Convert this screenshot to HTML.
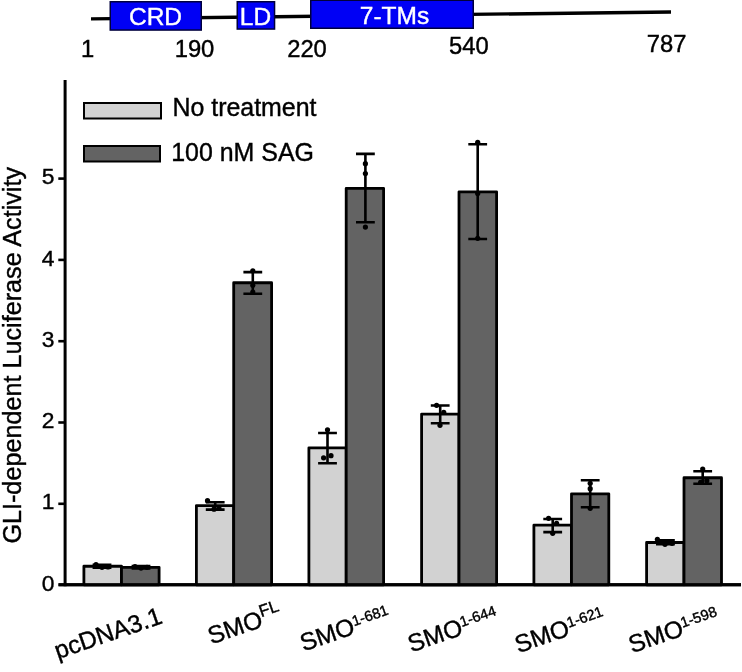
<!DOCTYPE html>
<html><head><meta charset="utf-8"><title>Figure</title>
<style>
html,body{margin:0;padding:0;background:#fff;}
body{width:742px;height:672px;overflow:hidden;position:relative;}
svg{position:absolute;left:0;top:0;display:block;}
text{font-family:"Liberation Sans",Arial,Helvetica,sans-serif;fill:#000;}
text.k{stroke:#000;stroke-width:0.4px;}
text.w{stroke:#fff;stroke-width:0.4px;}
</style></head><body>
<svg width="742" height="672" viewBox="0 0 742 672">
<rect width="742" height="672" fill="#fff"/>

<line x1="91" y1="18.9" x2="671" y2="12" stroke="#000" stroke-width="3.4"/>
<rect x="110.25" y="1.75" width="91.0" height="28.3" fill="#0000f5" stroke="#00003c" stroke-width="1.5"/>
<text x="155.5" y="25" font-size="24.5" text-anchor="middle" class="w" style="fill:#fff">CRD</text>
<rect x="237.25" y="1.75" width="37.30000000000001" height="27.3" fill="#0000f5" stroke="#00003c" stroke-width="1.5"/>
<text x="255.5" y="24.6" font-size="24.5" text-anchor="middle" class="w" style="fill:#fff">LD</text>
<rect x="310.75" y="0.25" width="162.5" height="28.0" fill="#0000f5" stroke="#00003c" stroke-width="1.5"/>
<text x="394.5" y="23.6" font-size="24.5" text-anchor="middle" class="w" style="fill:#fff">7-TMs</text>
<text class="k" x="87.5" y="57" font-size="23.8" text-anchor="middle">1</text>
<text class="k" x="194.5" y="57" font-size="23.8" text-anchor="middle">190</text>
<text class="k" x="307" y="57" font-size="23.8" text-anchor="middle">220</text>
<text class="k" x="468.8" y="53.6" font-size="23.8" text-anchor="middle">540</text>
<text class="k" x="666.7" y="52" font-size="23.8" text-anchor="middle">787</text>
<line x1="65.1" y1="80" x2="65.1" y2="586.3" stroke="#000" stroke-width="3"/>
<line x1="58.5" y1="584.8" x2="741" y2="584.8" stroke="#000" stroke-width="3"/>
<line x1="58.3" y1="503.8" x2="65" y2="503.8" stroke="#000" stroke-width="2.6"/>
<line x1="58.3" y1="422.5" x2="65" y2="422.5" stroke="#000" stroke-width="2.6"/>
<line x1="58.3" y1="341.2" x2="65" y2="341.2" stroke="#000" stroke-width="2.6"/>
<line x1="58.3" y1="259.9" x2="65" y2="259.9" stroke="#000" stroke-width="2.6"/>
<line x1="58.3" y1="178.6" x2="65" y2="178.6" stroke="#000" stroke-width="2.6"/>
<text class="k" x="54.4" y="590.7" font-size="22.8" text-anchor="end">0</text>
<text class="k" x="54.4" y="509.4" font-size="22.8" text-anchor="end">1</text>
<text class="k" x="54.4" y="428.1" font-size="22.8" text-anchor="end">2</text>
<text class="k" x="54.4" y="346.8" font-size="22.8" text-anchor="end">3</text>
<text class="k" x="54.4" y="265.5" font-size="22.8" text-anchor="end">4</text>
<text class="k" x="54.4" y="184.2" font-size="22.8" text-anchor="end">5</text>
<text class="k" transform="translate(21.2 355.3) rotate(-90)" font-size="25.2" text-anchor="middle">GLI-dependent Luciferase Activity</text>
<rect x="84" y="103" width="77" height="15.5" fill="#d2d2d2" stroke="#000" stroke-width="2"/>
<rect x="84" y="146" width="76" height="15.5" fill="#636363" stroke="#000" stroke-width="2"/>
<text class="k" x="172.4" y="115.6" font-size="24.95">No treatment</text>
<text class="k" x="171.2" y="160.5" font-size="24.95">100 nM SAG</text>
<rect x="83.90" y="566.26" width="37.60" height="18.54" fill="#d2d2d2" stroke="#000" stroke-width="2.8" stroke-linejoin="round"/>
<rect x="121.50" y="567.32" width="37.60" height="17.48" fill="#636363" stroke="#000" stroke-width="2.8" stroke-linejoin="round"/>
<path d="M102 567.7V564.9M92.6 564.9h18.8M92.6 567.7h18.8" stroke="#000" stroke-width="2.6" fill="none"/>
<circle cx="96" cy="564.5" r="2.6" fill="#000"/>
<circle cx="102" cy="567.3" r="2.6" fill="#000"/>
<circle cx="108" cy="566.9" r="2.6" fill="#000"/>
<path d="M141 568.5V566.1M131.6 566.1h18.8M131.6 568.5h18.8" stroke="#000" stroke-width="2.6" fill="none"/>
<circle cx="135" cy="566.5" r="2.6" fill="#000"/>
<circle cx="141" cy="568.1" r="2.6" fill="#000"/>
<circle cx="147" cy="567.3" r="2.6" fill="#000"/>
<rect x="196.40" y="505.53" width="37.30" height="79.27" fill="#d2d2d2" stroke="#000" stroke-width="2.8" stroke-linejoin="round"/>
<rect x="233.70" y="282.77" width="37.90" height="302.03" fill="#636363" stroke="#000" stroke-width="2.8" stroke-linejoin="round"/>
<path d="M215.2 509.6V502.2M205.79999999999998 502.2h18.8M205.79999999999998 509.6h18.8" stroke="#000" stroke-width="2.6" fill="none"/>
<circle cx="207.5" cy="500.7" r="2.6" fill="#000"/>
<circle cx="214" cy="509.2" r="2.6" fill="#000"/>
<circle cx="219" cy="508.4" r="2.6" fill="#000"/>
<path d="M252.8 293.7V272.1M243.4 272.1h18.8M243.4 293.7h18.8" stroke="#000" stroke-width="2.6" fill="none"/>
<circle cx="252.8" cy="270.8" r="2.6" fill="#000"/>
<circle cx="252.8" cy="285.3" r="2.6" fill="#000"/>
<circle cx="252.8" cy="292.1" r="2.6" fill="#000"/>
<rect x="308.90" y="447.81" width="37.30" height="136.99" fill="#d2d2d2" stroke="#000" stroke-width="2.8" stroke-linejoin="round"/>
<rect x="346.20" y="188.30" width="37.40" height="396.50" fill="#636363" stroke="#000" stroke-width="2.8" stroke-linejoin="round"/>
<path d="M327.5 463.2V433.0M318.1 433.0h18.8M318.1 463.2h18.8" stroke="#000" stroke-width="2.6" fill="none"/>
<circle cx="327.5" cy="429.8" r="2.6" fill="#000"/>
<circle cx="323.6" cy="457.8" r="2.6" fill="#000"/>
<circle cx="331" cy="455.7" r="2.6" fill="#000"/>
<path d="M365.4 222.3V153.9M356.0 153.9h18.8M356.0 222.3h18.8" stroke="#000" stroke-width="2.6" fill="none"/>
<circle cx="365.4" cy="163.7" r="2.6" fill="#000"/>
<circle cx="365.4" cy="173.5" r="2.6" fill="#000"/>
<circle cx="365.4" cy="227.1" r="2.6" fill="#000"/>
<rect x="421.60" y="414.07" width="37.40" height="170.73" fill="#d2d2d2" stroke="#000" stroke-width="2.8" stroke-linejoin="round"/>
<rect x="459.00" y="191.80" width="37.60" height="393.00" fill="#636363" stroke="#000" stroke-width="2.8" stroke-linejoin="round"/>
<path d="M440.2 423.3V405.5M430.8 405.5h18.8M430.8 423.3h18.8" stroke="#000" stroke-width="2.6" fill="none"/>
<circle cx="436.6" cy="405.3" r="2.6" fill="#000"/>
<circle cx="443.75" cy="412.3" r="2.6" fill="#000"/>
<circle cx="440" cy="425.3" r="2.6" fill="#000"/>
<path d="M477.7 239.0V144.3M468.3 144.3h18.8M468.3 239.0h18.8" stroke="#000" stroke-width="2.6" fill="none"/>
<circle cx="477.7" cy="142.3" r="2.6" fill="#000"/>
<circle cx="477.7" cy="193.6" r="2.6" fill="#000"/>
<circle cx="477.7" cy="238.3" r="2.6" fill="#000"/>
<rect x="533.90" y="525.13" width="37.60" height="59.67" fill="#d2d2d2" stroke="#000" stroke-width="2.8" stroke-linejoin="round"/>
<rect x="571.50" y="493.83" width="37.30" height="90.97" fill="#636363" stroke="#000" stroke-width="2.8" stroke-linejoin="round"/>
<path d="M552.7 532.1V519.0M543.3000000000001 519.0h18.8M543.3000000000001 532.1h18.8" stroke="#000" stroke-width="2.6" fill="none"/>
<circle cx="548.6" cy="518.3" r="2.6" fill="#000"/>
<circle cx="556.6" cy="523.3" r="2.6" fill="#000"/>
<circle cx="552.7" cy="533.3" r="2.6" fill="#000"/>
<path d="M590.2 507.3V480.3M580.8000000000001 480.3h18.8M580.8000000000001 507.3h18.8" stroke="#000" stroke-width="2.6" fill="none"/>
<circle cx="590.2" cy="483.3" r="2.6" fill="#000"/>
<circle cx="590.2" cy="488.7" r="2.6" fill="#000"/>
<circle cx="590.2" cy="508.3" r="2.6" fill="#000"/>
<rect x="646.60" y="542.52" width="37.40" height="42.28" fill="#d2d2d2" stroke="#000" stroke-width="2.8" stroke-linejoin="round"/>
<rect x="684.00" y="477.73" width="37.50" height="107.07" fill="#636363" stroke="#000" stroke-width="2.8" stroke-linejoin="round"/>
<path d="M665.4 544.1V540.3M656.0 540.3h18.8M656.0 544.1h18.8" stroke="#000" stroke-width="2.6" fill="none"/>
<circle cx="657.4" cy="539.3" r="2.6" fill="#000"/>
<circle cx="665" cy="544.3" r="2.6" fill="#000"/>
<circle cx="672" cy="543.3" r="2.6" fill="#000"/>
<path d="M702.7 483.7V471.2M693.3000000000001 471.2h18.8M693.3000000000001 483.7h18.8" stroke="#000" stroke-width="2.6" fill="none"/>
<circle cx="702.7" cy="469.0" r="2.6" fill="#000"/>
<circle cx="700.6" cy="482.3" r="2.6" fill="#000"/>
<circle cx="706.8" cy="480.7" r="2.6" fill="#000"/>
<line x1="58.5" y1="584.8" x2="741" y2="584.8" stroke="#000" stroke-width="3"/>
<text class="k" transform="translate(57.7 659.3) rotate(-19)" font-size="24.6">pcDNA3.1</text>
<text class="k" transform="translate(211.3 644.4) rotate(-19)" font-size="24.6">SMO<tspan font-size="17" dy="-9.5">FL</tspan></text>
<text class="k" transform="translate(303.4 651.6) rotate(-19)" font-size="24.6">SMO<tspan font-size="14.6" dy="-7.5">1-681</tspan></text>
<text class="k" transform="translate(411.3 652.4) rotate(-19)" font-size="24.6">SMO<tspan font-size="14.6" dy="-7.5">1-644</tspan></text>
<text class="k" transform="translate(518.2 653.2) rotate(-19)" font-size="24.6">SMO<tspan font-size="14.6" dy="-7.5">1-621</tspan></text>
<text class="k" transform="translate(632.0 653.2) rotate(-19)" font-size="24.6">SMO<tspan font-size="14.6" dy="-7.5">1-598</tspan></text>
</svg></body></html>
